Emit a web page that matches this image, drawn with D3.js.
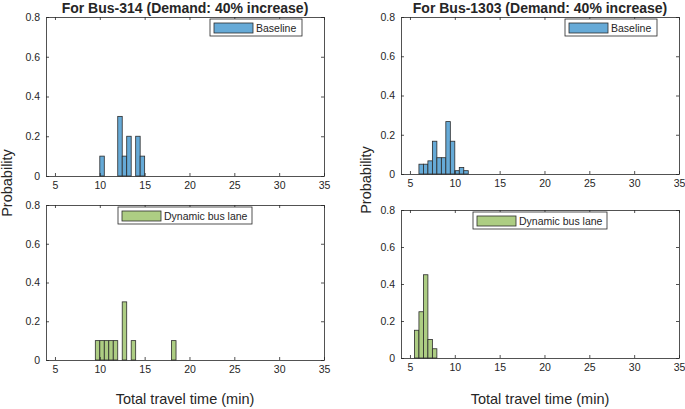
<!DOCTYPE html>
<html>
<head>
<meta charset="utf-8">
<script src="https://d3js.org/d3.v7.min.js"></script>
<style>
  body { margin: 0; background: #fff; }
  text { font-family: "Liberation Sans", Arial, sans-serif; fill: #262626; }
</style>
</head>
<body>
<div id="chart"></div>
<script>
// bin width 0.5 min, bins given by their left edge
var binWidth = 0.5;
var xTicks = [5, 10, 15, 20, 25, 30, 35];
var yTicks = [0, 0.2, 0.4, 0.6, 0.8];

var bus314Base = [10, 12, 12.5, 13, 14, 14.5];
var bus314BaseP = [0.1, 0.3, 0.1, 0.2, 0.2, 0.1];
var bus314Dyn = [9.5, 10, 10.5, 11, 11.5, 12.5, 13.5, 18];
var bus314DynP = [0.1, 0.1, 0.1, 0.1, 0.1, 0.3, 0.1, 0.1];

var bus1303Base = [6, 6.5, 7, 7.5, 8, 8.5, 9, 9.5, 10, 10.5, 11];
var bus1303BaseP = [0.05, 0.05, 0.067, 0.167, 0.083, 0.083, 0.267, 0.167, 0.017, 0.033, 0.017];
var bus1303Dyn = [5.5, 6, 6.5, 7, 7.5];
var bus1303DynP = [0.15, 0.25, 0.45, 0.1, 0.05];

var titles = ["For Bus-314 (Demand: 40% increase)", "For Bus-1303 (Demand: 40% increase)"];
var legendNames = ["Baseline", "Dynamic bus lane"];
var blue = "#66aad7", green = "#adcd83";

var W = 685, H = 409;
var svg = d3.select("#chart").append("svg").attr("width", W).attr("height", H);

var panels = [
  {x0: 46, x1: 324, y0: 17, y1: 176, bins: bus314Base, p: bus314BaseP, color: blue, name: legendNames[0], leg: "ne"},
  {x0: 401, x1: 679, y0: 17, y1: 174, bins: bus1303Base, p: bus1303BaseP, color: blue, name: legendNames[0], leg: "ne"},
  {x0: 46, x1: 324, y0: 205, y1: 360, bins: bus314Dyn, p: bus314DynP, color: green, name: legendNames[1], leg: "n"},
  {x0: 401, x1: 679, y0: 210, y1: 358, bins: bus1303Dyn, p: bus1303DynP, color: green, name: legendNames[1], leg: "n"}
];

panels.forEach(function(pn) {
  var x = d3.scaleLinear().domain([4, 35]).range([pn.x0, pn.x1]);
  var y = d3.scaleLinear().domain([0, 0.8]).range([pn.y1, pn.y0]);
  var g = svg.append("g");

  g.selectAll("rect.bar").data(pn.bins).enter().append("rect")
    .attr("class", "bar")
    .attr("x", function(d) { return x(d); })
    .attr("width", function(d) { return x(d + binWidth) - x(d); })
    .attr("y", function(d, i) { return y(pn.p[i]); })
    .attr("height", function(d, i) { return y(0) - y(pn.p[i]); })
    .attr("fill", pn.color)
    .attr("stroke", "#2b2b2b")
    .attr("stroke-width", 0.8);

  var bottom = g.append("g").attr("transform", "translate(0," + pn.y1 + ")")
    .call(d3.axisBottom(x).tickValues(xTicks).tickSizeInner(-3).tickSizeOuter(0).tickPadding(6));
  var top = g.append("g").attr("transform", "translate(0," + pn.y0 + ")")
    .call(d3.axisTop(x).tickValues(xTicks).tickSizeInner(-3).tickSizeOuter(0).tickFormat(""));
  var left = g.append("g").attr("transform", "translate(" + pn.x0 + ",0)")
    .call(d3.axisLeft(y).tickValues(yTicks).tickSizeInner(-3).tickSizeOuter(0).tickPadding(6)
      .tickFormat(function(d) { return d === 0 ? "0" : d3.format(".1f")(d); }));
  var right = g.append("g").attr("transform", "translate(" + pn.x1 + ",0)")
    .call(d3.axisRight(y).tickValues(yTicks).tickSizeInner(-3).tickSizeOuter(0).tickFormat(""));

  [bottom, top, left, right].forEach(function(a) {
    a.select(".domain").attr("stroke", "#262626").attr("stroke-width", 0.8);
    a.selectAll(".tick line").attr("stroke", "#262626").attr("stroke-width", 0.8);
    a.selectAll(".tick text").attr("font-size", 10.5).attr("fill", "#262626")
      .attr("font-family", "Liberation Sans, Arial, sans-serif");
  });

  // legend
  var lw = pn.leg === "ne" ? 92 : 134, lh = 17;
  var lx = pn.leg === "ne" ? pn.x1 - 22 - lw : (pn.x0 + pn.x1) / 2 - lw / 2;
  var ly = pn.y0 + 2;
  var lg = g.append("g").attr("transform", "translate(" + lx + "," + ly + ")");
  lg.append("rect").attr("width", lw).attr("height", lh)
    .attr("fill", "#fff").attr("stroke", "#262626").attr("stroke-width", 0.8);
  lg.append("rect").attr("x", 4).attr("y", 4).attr("width", 39).attr("height", 10)
    .attr("fill", pn.color).attr("stroke", "#2b2b2b").attr("stroke-width", 0.8);
  lg.append("text").attr("x", 46).attr("y", 13).attr("font-size", 10.5).text(pn.name);
});

// titles
[0, 1].forEach(function(i) {
  var pn = panels[i];
  svg.append("text").attr("x", (pn.x0 + pn.x1) / 2).attr("y", 13)
    .attr("text-anchor", "middle").attr("font-size", 14).attr("font-weight", "bold")
    .attr("fill", "#000").text(titles[i]);
  var pb = panels[i + 2];
  svg.append("text").attr("x", (pb.x0 + pb.x1) / 2).attr("y", 404)
    .attr("text-anchor", "middle").attr("font-size", 14.5).text("Total travel time (min)");
});

// y labels
[[12, 183], [371, 180]].forEach(function(p) {
  svg.append("text").attr("transform", "translate(" + p[0] + "," + p[1] + ") rotate(-90)")
    .attr("text-anchor", "middle").attr("font-size", 14.5).text("Probability");
});
</script>
</body>
</html>
